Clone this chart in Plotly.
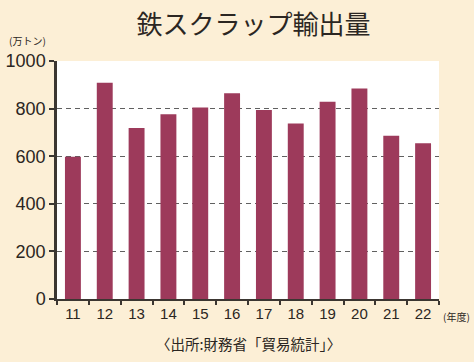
import plotly.graph_objects as go

years = ["11", "12", "13", "14", "15", "16", "17", "18", "19", "20", "21", "22"]
exports = [598, 909, 718, 776, 805, 864, 794, 737, 829, 884, 686, 654]
y_ticks = [0, 200, 400, 600, 800, 1000]

BG = "#fcefd6"
BAR = "#9d3a5b"
AX = "#3b3631"
FONT = "Liberation Sans, Arial, sans-serif"

fig = go.Figure(go.Bar(x=years, y=exports, marker=dict(color=BAR, line=dict(width=0)),
                       width=0.5))

fig.update_layout(
    width=474, height=362,
    paper_bgcolor=BG, plot_bgcolor="white",
    margin=dict(l=57, r=35, t=61, b=63, autoexpand=False),
    showlegend=False,
    font=dict(family=FONT, color="#2b2622"),
    title=dict(text="鉄スクラップ輸出量", x=0.535, xanchor="center", y=0.93, yanchor="middle",
               font=dict(size=26, family="Noto Sans CJK JP", color="#2b2622")),
    bargap=0.5,
)

fig.update_xaxes(
    type="category", showline=True, linecolor=AX, linewidth=2,
    ticks="outside", tickson="boundaries", ticklen=4, tickwidth=2, tickcolor=AX,
    tickfont=dict(size=15, family=FONT), showgrid=False, fixedrange=True,
    automargin=False,
)
fig.update_yaxes(
    range=[0, 1000], tickvals=y_ticks, showline=True, linecolor=AX, linewidth=2.5,
    ticks="outside", ticklen=5, tickwidth=2, tickcolor=AX,
    tickfont=dict(size=18, family=FONT),
    showgrid=True, gridcolor="#606060", griddash="5px,4px", gridwidth=1.3,
    zeroline=False, automargin=False,
)

fig.add_annotation(text="(万トン)", xref="paper", yref="paper", x=-0.13, y=1.085,
                   xanchor="left", yanchor="middle", showarrow=False,
                   font=dict(size=10, family="Noto Sans CJK JP"))
fig.add_annotation(text="(年度)", xref="paper", yref="paper", x=1.005, y=-0.075,
                   xanchor="left", yanchor="middle", showarrow=False,
                   font=dict(size=10, family="Noto Sans CJK JP"))
fig.add_annotation(text="〈出所:財務省「貿易統計」〉", xref="paper", yref="paper", x=0.5, y=-0.185,
                   xanchor="center", yanchor="middle", showarrow=False,
                   font=dict(size=14.5, family="Noto Sans CJK JP"))

fig.write_html("out.html", config={"displayModeBar": False},
               post_script="document.body.style.margin='0';document.body.style.background='%s';" % BG)
